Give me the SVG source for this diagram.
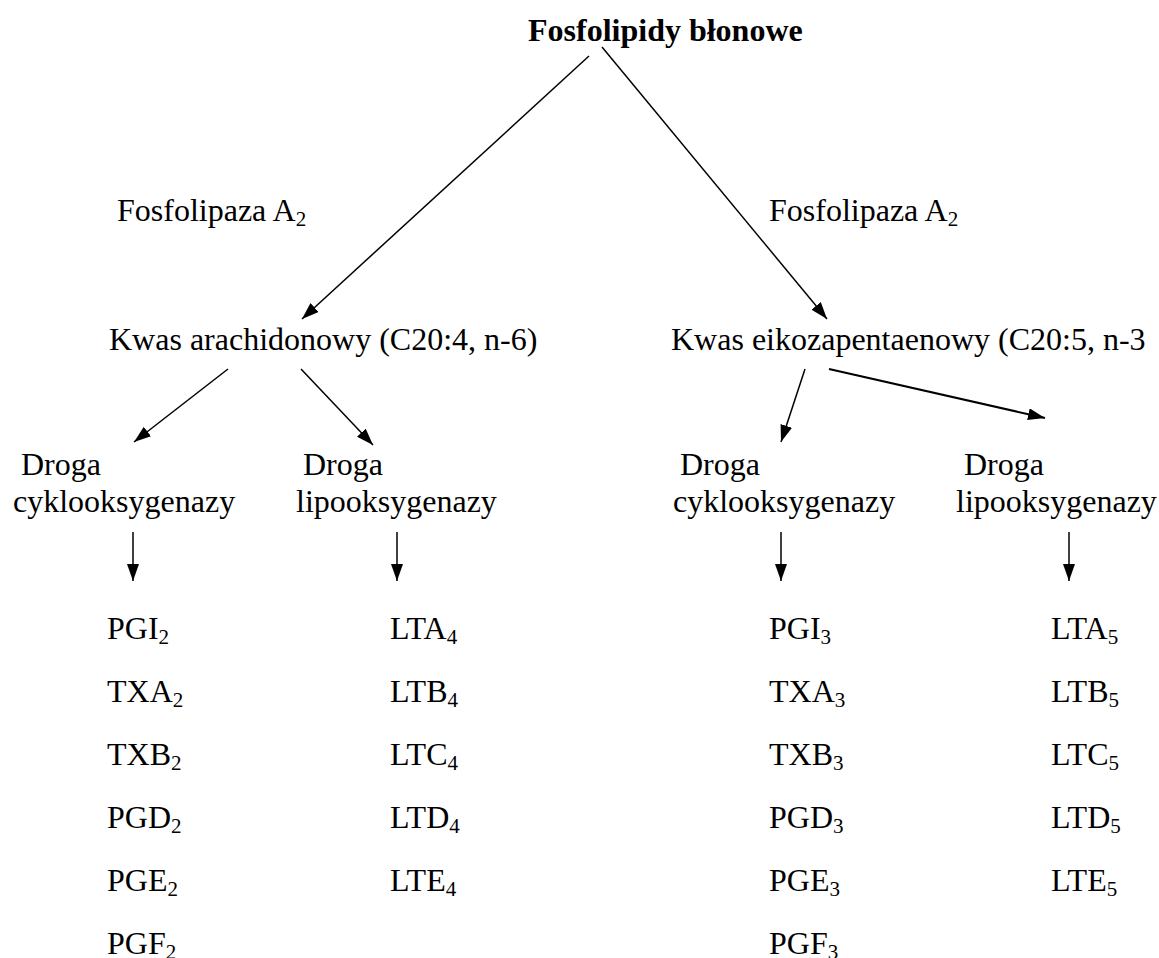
<svg xmlns="http://www.w3.org/2000/svg" width="1159" height="958" viewBox="0 0 1159 958">
<style>
text{font-family:"Liberation Serif","Times New Roman",serif;font-size:32px;fill:#000}
.b{font-weight:bold}
.s{font-size:21px}
.c line{stroke:#000;stroke-width:1.5;marker-end:url(#ah)}
</style>
<defs>
<marker id="ah" markerUnits="userSpaceOnUse" markerWidth="17" markerHeight="12" refX="17" refY="6" orient="auto">
<path d="M0,0 L17,6 L0,12 z" fill="#000"/>
</marker>
</defs>
<rect width="1159" height="958" fill="#fff"/>
<g class="c" id="connectors">
<line x1="589" y1="56" x2="302" y2="319" stroke-width="1.3"/>
<line x1="602" y1="47" x2="827" y2="319" stroke-width="1.3"/>
<line x1="228" y1="369" x2="134" y2="442"/>
<line x1="301" y1="369" x2="373" y2="445"/>
<line x1="805" y1="369" x2="781" y2="442"/>
<line x1="829" y1="369" x2="1045" y2="418" style="stroke-width:2"/>
<line x1="133" y1="532" x2="133" y2="581"/>
<line x1="397" y1="532" x2="397" y2="581"/>
<line x1="781" y1="532" x2="781" y2="581"/>
<line x1="1069" y1="532" x2="1069" y2="581"/>
</g>
<g id="n-root"><text class="b" x="528" y="41">Fosfolipidy błonowe</text></g>
<g id="lbl-fa-left"><text x="117" y="221">Fosfolipaza A<tspan class="s" dy="5">2</tspan></text></g>
<g id="lbl-fa-right"><text x="769" y="221">Fosfolipaza A<tspan class="s" dy="5">2</tspan></text></g>
<g id="n-aa"><text x="109" y="350">Kwas arachidonowy (C20:4, n-6)</text></g>
<g id="n-epa"><text x="671" y="350">Kwas eikozapentaenowy (C20:5, n-3</text></g>
<g id="n-cox1"><text x="21" y="475">Droga</text><text x="13" y="512">cyklooksygenazy</text></g>
<g id="n-lox1"><text x="303" y="475">Droga</text><text x="296" y="512">lipooksygenazy</text></g>
<g id="n-cox2"><text x="680" y="475">Droga</text><text x="673" y="512">cyklooksygenazy</text></g>
<g id="n-lox2"><text x="964" y="475">Droga</text><text x="956" y="512">lipooksygenazy</text></g>
<g id="n-cox1-products">
<text x="107" y="639">PGI<tspan class="s" dy="5">2</tspan></text>
<text x="107" y="702">TXA<tspan class="s" dy="5">2</tspan></text>
<text x="107" y="765">TXB<tspan class="s" dy="5">2</tspan></text>
<text x="107" y="828">PGD<tspan class="s" dy="5">2</tspan></text>
<text x="107" y="891">PGE<tspan class="s" dy="5">2</tspan></text>
<text x="107" y="954">PGF<tspan class="s" dy="5">2</tspan></text>
</g>
<g id="n-lox1-products">
<text x="390" y="639">LTA<tspan class="s" dy="5">4</tspan></text>
<text x="390" y="702">LTB<tspan class="s" dy="5">4</tspan></text>
<text x="390" y="765">LTC<tspan class="s" dy="5">4</tspan></text>
<text x="390" y="828">LTD<tspan class="s" dy="5">4</tspan></text>
<text x="390" y="891">LTE<tspan class="s" dy="5">4</tspan></text>
</g>
<g id="n-cox2-products">
<text x="769" y="639">PGI<tspan class="s" dy="5">3</tspan></text>
<text x="769" y="702">TXA<tspan class="s" dy="5">3</tspan></text>
<text x="769" y="765">TXB<tspan class="s" dy="5">3</tspan></text>
<text x="769" y="828">PGD<tspan class="s" dy="5">3</tspan></text>
<text x="769" y="891">PGE<tspan class="s" dy="5">3</tspan></text>
<text x="769" y="954">PGF<tspan class="s" dy="5">3</tspan></text>
</g>
<g id="n-lox2-products">
<text x="1051" y="639">LTA<tspan class="s" dy="5">5</tspan></text>
<text x="1051" y="702">LTB<tspan class="s" dy="5">5</tspan></text>
<text x="1051" y="765">LTC<tspan class="s" dy="5">5</tspan></text>
<text x="1051" y="828">LTD<tspan class="s" dy="5">5</tspan></text>
<text x="1051" y="891">LTE<tspan class="s" dy="5">5</tspan></text>
</g>
</svg>
